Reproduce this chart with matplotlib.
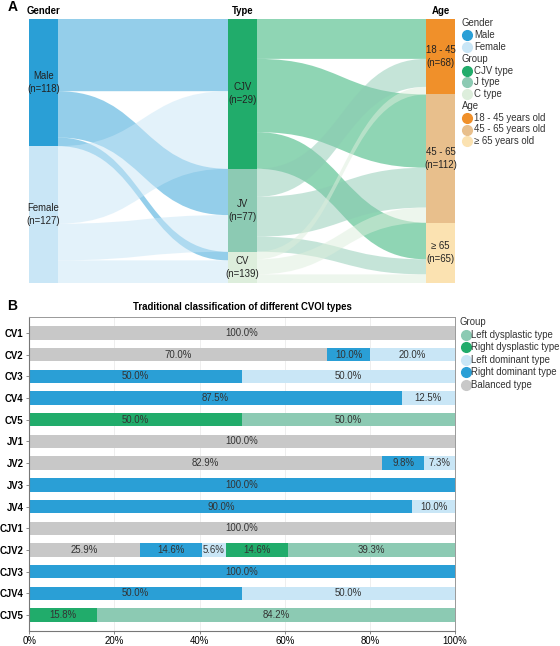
"""Two-panel figure: Sankey of gender -> CVOI type -> age (A) and
stacked percentage bars of the traditional classification per type (B)."""

import matplotlib as mpl
import matplotlib.pyplot as plt
from matplotlib.lines import Line2D
from matplotlib.patches import PathPatch, Rectangle
from matplotlib.path import Path
import numpy as np

mpl.rcParams["font.family"] = ["Liberation Sans", "DejaVu Sans"]
FS = 6.9

# ---- panel A data -------------------------------------------------------
GENDER_LABELS = ["Male\n(n=118)", "Female\n(n=127)"]
TYPE_LABELS = ["CJV\n(n=29)", "JV\n(n=77)", "CV\n(n=139)"]
AGE_LABELS = ["18 - 45\n(n=68)", "45 - 65\n(n=112)", "≥ 65\n(n=65)"]

# rows: Male, Female ; cols: CJV, JV, CV
GENDER_TYPE = [[67, 43, 8],
               [72, 34, 21]]
# rows: CJV, JV, CV ; cols: 18-45, 45-65, >=65
TYPE_AGE = [[37, 68, 34],
            [26, 37, 14],
            [7, 14, 8]]

GENDER_COLORS = ["#2A9FD6", "#C9E6F6"]
TYPE_COLORS = ["#21AC6B", "#8CCAB3", "#DDEEDC"]
AGE_COLORS = ["#F0902A", "#E8BF8C", "#FBE2B1"]

LEGEND_A = [
    ("Gender", [("Male", GENDER_COLORS[0]), ("Female", GENDER_COLORS[1])]),
    ("Group", [("CJV type", TYPE_COLORS[0]), ("J type", TYPE_COLORS[1]),
               ("C type", TYPE_COLORS[2])]),
    ("Age", [("18 - 45 years old", AGE_COLORS[0]),
             ("45 - 65 years old", AGE_COLORS[1]),
             ("≥ 65 years old", AGE_COLORS[2])]),
]

# ---- panel B data -------------------------------------------------------
CATEGORIES = ["CV1", "CV2", "CV3", "CV4", "CV5",
              "JV1", "JV2", "JV3", "JV4",
              "CJV1", "CJV2", "CJV3", "CJV4", "CJV5"]
BALANCED = [100, 70, 0, 0, 0, 100, 82.9, 0, 0, 100, 25.9, 0, 0, 0]
RIGHT_DOM = [0, 10, 50, 87.5, 0, 0, 9.8, 100, 90, 0, 14.6, 100, 50, 0]
LEFT_DOM = [0, 20, 50, 12.5, 0, 0, 7.3, 0, 10, 0, 5.6, 0, 50, 0]
RIGHT_DYS = [0, 0, 0, 0, 50, 0, 0, 0, 0, 0, 14.6, 0, 0, 15.8]
LEFT_DYS = [0, 0, 0, 0, 50, 0, 0, 0, 0, 0, 39.3, 0, 0, 84.2]

SERIES = [
    ("Balanced type", BALANCED, "#C8C8C8"),
    ("Right dominant type", RIGHT_DOM, "#2A9FD6"),
    ("Left dominant type", LEFT_DOM, "#C9E6F6"),
    ("Right dysplastic type", RIGHT_DYS, "#21AC6B"),
    ("Left dysplastic type", LEFT_DYS, "#8CCAB3"),
]

W, H = 560, 646


def fx(x):
    return x / W


def fy(y):
    return 1 - y / H


def ribbon(ax, x0, x1, s0, s1, t0, t1, color, alpha=0.5):
    xm = (x0 + x1) / 2
    verts = [(x0, s0), (xm, s0), (xm, t0), (x1, t0), (x1, t1),
             (xm, t1), (xm, s1), (x0, s1), (x0, s0)]
    codes = [Path.MOVETO, Path.CURVE4, Path.CURVE4, Path.CURVE4, Path.LINETO,
             Path.CURVE4, Path.CURVE4, Path.CURVE4, Path.CLOSEPOLY]
    ax.add_patch(PathPatch(Path(verts, codes), facecolor=color,
                           edgecolor="none", alpha=alpha, zorder=1))


def stack(sizes):
    edges = np.concatenate([[0], np.cumsum(sizes)])
    return edges[:-1], edges[1:]


def draw_flows(ax, matrix, x0, x1, colors):
    m = np.asarray(matrix, dtype=float)
    src_lo, _ = stack(m.sum(axis=1))
    tgt_lo, _ = stack(m.sum(axis=0))
    tgt_cursor = tgt_lo.copy()
    for i in range(m.shape[0]):
        s = src_lo[i]
        for j in range(m.shape[1]):
            v = m[i, j]
            t = tgt_cursor[j]
            ribbon(ax, x0, x1, s, s + v, t, t + v, colors[i])
            s += v
            tgt_cursor[j] += v


def draw_nodes(ax, sizes, x, w, colors, labels):
    lo, hi = stack(sizes)
    for a, b, c, lab in zip(lo, hi, colors, labels):
        ax.add_patch(Rectangle((x, a), w, b - a, facecolor=c,
                               edgecolor="none", zorder=2))
        ax.text(x + w / 2, (a + b) / 2, lab, ha="center", va="center",
                fontsize=FS, color="#222222", zorder=3, linespacing=1.4)


def main():
    fig = plt.figure(figsize=(W / 100, H / 100), dpi=100)

    # ---------------- panel A: sankey ----------------
    ax_a = fig.add_axes([fx(29), fy(283), fx(426), 264 / H])
    gt = np.asarray(GENDER_TYPE)
    ta = np.asarray(TYPE_AGE)
    total = gt.sum()
    cols = [0, 199, 397]
    nw = 29
    ax_a.set_xlim(0, 426)
    ax_a.set_ylim(total, 0)
    ax_a.axis("off")

    draw_flows(ax_a, gt, cols[0] + nw, cols[1], GENDER_COLORS)
    draw_flows(ax_a, ta, cols[1] + nw, cols[2], TYPE_COLORS)
    draw_nodes(ax_a, gt.sum(axis=1), cols[0], nw, GENDER_COLORS, GENDER_LABELS)
    draw_nodes(ax_a, gt.sum(axis=0), cols[1], nw, TYPE_COLORS, TYPE_LABELS)
    draw_nodes(ax_a, ta.sum(axis=0), cols[2], nw, AGE_COLORS, AGE_LABELS)

    for c, head in zip(cols, ["Gender", "Type", "Age"]):
        fig.text(fx(29 + c + nw / 2), fy(11.5), head, ha="center", va="center",
                 fontsize=FS, fontweight="bold")

    y = 23.3
    for head, items in LEGEND_A:
        fig.text(fx(461.5), fy(y), head, ha="left", va="center", fontsize=FS,
                 color="#333333")
        y += 11.8
        for lab, col in items:
            fig.lines.append(Line2D([fx(467.3)], [fy(y)], marker="o",
                                    markersize=7, color=col, linestyle="none",
                                    transform=fig.transFigure))
            fig.text(fx(474), fy(y), lab, ha="left", va="center",
                     fontsize=FS, color="#333333")
            y += 11.8

    fig.text(fx(8), fy(7), "A", fontsize=10, fontweight="bold",
             ha="left", va="center")

    # ---------------- panel B: stacked bars ----------------
    ax_b = fig.add_axes([fx(29.3), fy(631), (455 - 29.3) / W, (631 - 317) / H])
    yy = np.arange(len(CATEGORIES))
    left = np.zeros(len(CATEGORIES))
    for name, vals, color in SERIES:
        vals = np.asarray(vals, dtype=float)
        ax_b.barh(yy, vals, left=left, height=0.62, color=color,
                  edgecolor="none", zorder=2)
        for yi, (l, v) in enumerate(zip(left, vals)):
            if v > 0:
                ax_b.text(l + v / 2, yi, f"{v:.1f}%", ha="center",
                          va="center", fontsize=FS, color="#333333", zorder=3)
        left += vals

    ax_b.set_xlim(0, 100)
    ax_b.set_ylim(len(CATEGORIES) - 1 + 0.735, -0.735)
    ax_b.set_yticks(yy)
    ax_b.set_yticklabels(CATEGORIES, fontsize=FS, fontweight="bold")
    ax_b.set_xticks(np.arange(0, 101, 20))
    ax_b.set_xticklabels([f"{t}%" for t in range(0, 101, 20)], fontsize=FS)
    ax_b.tick_params(axis="both", length=2.5, width=0.6, color="#777777",
                     pad=1.5)
    ax_b.tick_params(axis="x", pad=0.8)
    ax_b.grid(axis="x", color="#EBEBEB", linewidth=0.6, zorder=0)
    ax_b.set_axisbelow(True)
    for side in ["top", "right"]:
        ax_b.spines[side].set_color("#999999")
        ax_b.spines[side].set_linewidth(0.7)
    for side in ["left", "bottom"]:
        ax_b.spines[side].set_color("#777777")
        ax_b.spines[side].set_linewidth(0.8)

    fig.text(fx(242), fy(307), "Traditional classification of different CVOI types",
             ha="center", va="center", fontsize=FS, fontweight="bold")
    fig.text(fx(7), fy(306), "B", fontsize=10, fontweight="bold",
             ha="left", va="center")

    y = 322
    fig.text(fx(459.5), fy(y), "Group", ha="left", va="center", fontsize=FS,
             color="#333333")
    for name, _vals, color in SERIES[::-1]:
        y += 12.6
        fig.lines.append(Line2D([fx(465.5)], [fy(y)], marker="o", markersize=7,
                                color=color, linestyle="none",
                                transform=fig.transFigure))
        fig.text(fx(471.3), fy(y), name, ha="left", va="center", fontsize=FS,
                 color="#333333")

    fig.savefig("out.png", dpi=100)


if __name__ == "__main__":
    main()
